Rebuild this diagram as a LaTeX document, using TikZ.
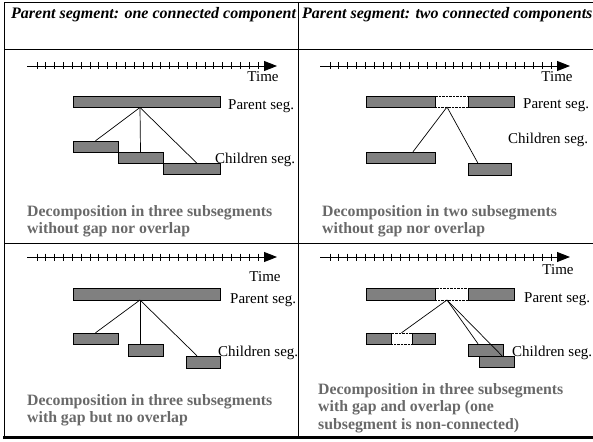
\documentclass[tikz,border=0pt]{standalone}
\usepackage{fontspec}
\setmainfont{Liberation Serif}
\usetikzlibrary{arrows.meta}
\definecolor{segfill}{RGB}{128,128,128}
\definecolor{captxt}{RGB}{105,105,105}
\begin{document}
\begin{tikzpicture}[x=1pt,y=-1pt,
seg/.style={%
draw,
fill=segfill,
inner sep=0pt,
minimum height=11pt
},
gapseg/.style={draw,densely dotted,fill=white,inner sep=0pt,minimum height=11pt},
lbl/.style={font=\fontsize{15}{17}\selectfont,inner sep=0pt},
desc/.style={font=\fontsize{15.8}{17.5}\selectfont\bfseries,text=captxt,align=left,inner sep=0pt,anchor=north west},
hdr/.style={font=\fontsize{16}{18}\selectfont\bfseries\itshape,inner sep=0pt},
timeline/.style={line width=0.9pt,-{Triangle[length=13pt,width=10pt]}},
link/.style={line width=0.7pt}
]
\useasboundingbox(0,0)rectangle(593,441);
%% Headers
\node[hdr,anchor=base west]at(11,19)(h1){Parent segment: one connected component};
\node[hdr,anchor=base west]at(302,19)(h2){Parent segment: two connected components};
%% Time axes
\foreach \ox/\oy/\n in {0/66/1,293/66/2,0/257/3,293/257/4}{
\coordinate(ts\n)at(27+\ox,\oy);
\coordinate(te\n)at(277+\ox,\oy);
\draw[timeline](ts\n)--(te\n);
\foreach \k in {0,...,25}\draw[line width=0.8pt](37+\ox+\k*8.84,\oy-3.5)--++(0,7);
}
\node[lbl,anchor=base]at(263,82)(time1){Time};
\node[lbl,anchor=base]at(557,82)(time2){Time};
\node[lbl,anchor=base]at(265,281)(time3){Time};
\node[lbl,anchor=base]at(558,274)(time4){Time};
%% Three subsegments, no gap
\node[seg,minimum width=147]at(146.5,102)(p1){};
\node[seg,minimum width=45]at(95.5,146.5)(c11){};
\node[seg,minimum width=45]at(140.5,157.5)(c12){};
\node[seg,minimum width=57]at(191.5,169)(c13){};
\coordinate(b1)at(140,107.5);
\draw[link](b1)--(c11.north);
\draw[link](b1)--(c12.north);
\draw[link](b1)--([xshift=5.5pt]c13.north);
\node[lbl,anchor=base west]at(228,110)(pl1){Parent seg.};
\node[lbl,anchor=base west]at(215,163)(cl1){Children seg.};
\node[desc]at(27,205)(d1){Decomposition in three subsegments\\without gap nor overlap};
%% Two subsegments
\node[gapseg,minimum width=33]at(451.5,101.5)(g2){};
\node[seg,minimum width=69]at(400.5,101.5)(p21){};
\node[seg,minimum width=46]at(491,101.5)(p22){};
\node[seg,minimum width=69]at(400.5,157.5)(c21){};
\node[seg,minimum width=43,minimum height=12]at(489.5,169.5)(c22){};
\coordinate(b2)at(447,107);
\draw[link](b2)--([xshift=12.5pt]c21.north);
\draw[link](b2)--([xshift=-11.5pt]c22.north);
\node[lbl,anchor=base west]at(523,108)(pl2){Parent seg.};
\node[lbl,anchor=base west]at(508,143)(cl2){Children seg.};
\node[desc]at(322,205)(d2){Decomposition in two subsegments\\without gap nor overlap};
%% Three subsegments with gap
\node[seg,minimum width=147,minimum height=12]at(146.5,294)(p3){};
\node[seg,minimum width=45]at(95.5,338.5)(c31){};
\node[seg,minimum width=35,minimum height=12]at(145.5,350)(c32){};
\node[seg,minimum width=34,minimum height=12]at(203,362)(c33){};
\coordinate(b3)at(140,300);
\draw[link](b3)--(c31.north);
\draw[link](b3)--([xshift=-5.5pt]c32.north);
\draw[link](b3)--([xshift=-6pt]c33.north);
\node[lbl,anchor=base west]at(230,303)(pl3){Parent seg.};
\node[lbl,anchor=base west]at(218,356)(cl3){Children seg.};
\node[desc]at(27,394)(d3){Decomposition in three subsegments\\with gap but no overlap};
%% Gap and overlap
\node[gapseg,minimum width=33,minimum height=12]at(451.5,294)(g41){};
\node[seg,minimum width=69,minimum height=12]at(400.5,294)(p41){};
\node[seg,minimum width=46,minimum height=12]at(491,294)(p42){};
\node[gapseg,minimum width=21]at(401.5,338.5)(g42){};
\node[seg,minimum width=25]at(378.5,338.5)(c41){};
\node[seg,minimum width=23]at(423.5,338.5)(c44){};
\node[seg,minimum width=35,minimum height=12]at(485.5,350)(c42){};
\node[seg,minimum width=35]at(496.5,361.5)(c43){};
\coordinate(b4)at(447,300);
\draw[link](b4)--(g42.north);
\draw[link](b4)--([xshift=-7.5pt]c42.north);
\draw[link](b4)--([xshift=5.5pt]c43.north);
\node[lbl,anchor=base west]at(524,302)(pl4){Parent seg.};
\node[lbl,anchor=base west]at(512,356)(cl4){Children seg.};
\node[desc]at(318,383)(d4){Decomposition in three subsegments\\with gap and overlap (one\\subsegment is non-connected)};
%% Table rules
\draw[line width=0.8pt](4,437)--(4,2)--(593,2);
\draw[line width=0.8pt](4,49)--(593,49);
\draw[line width=0.8pt](4,243)--(593,243);
\draw[line width=0.8pt](298,2)--(298,437);
\draw[line width=3pt](3,437)--(593,437);
\end{tikzpicture}
\end{document}
